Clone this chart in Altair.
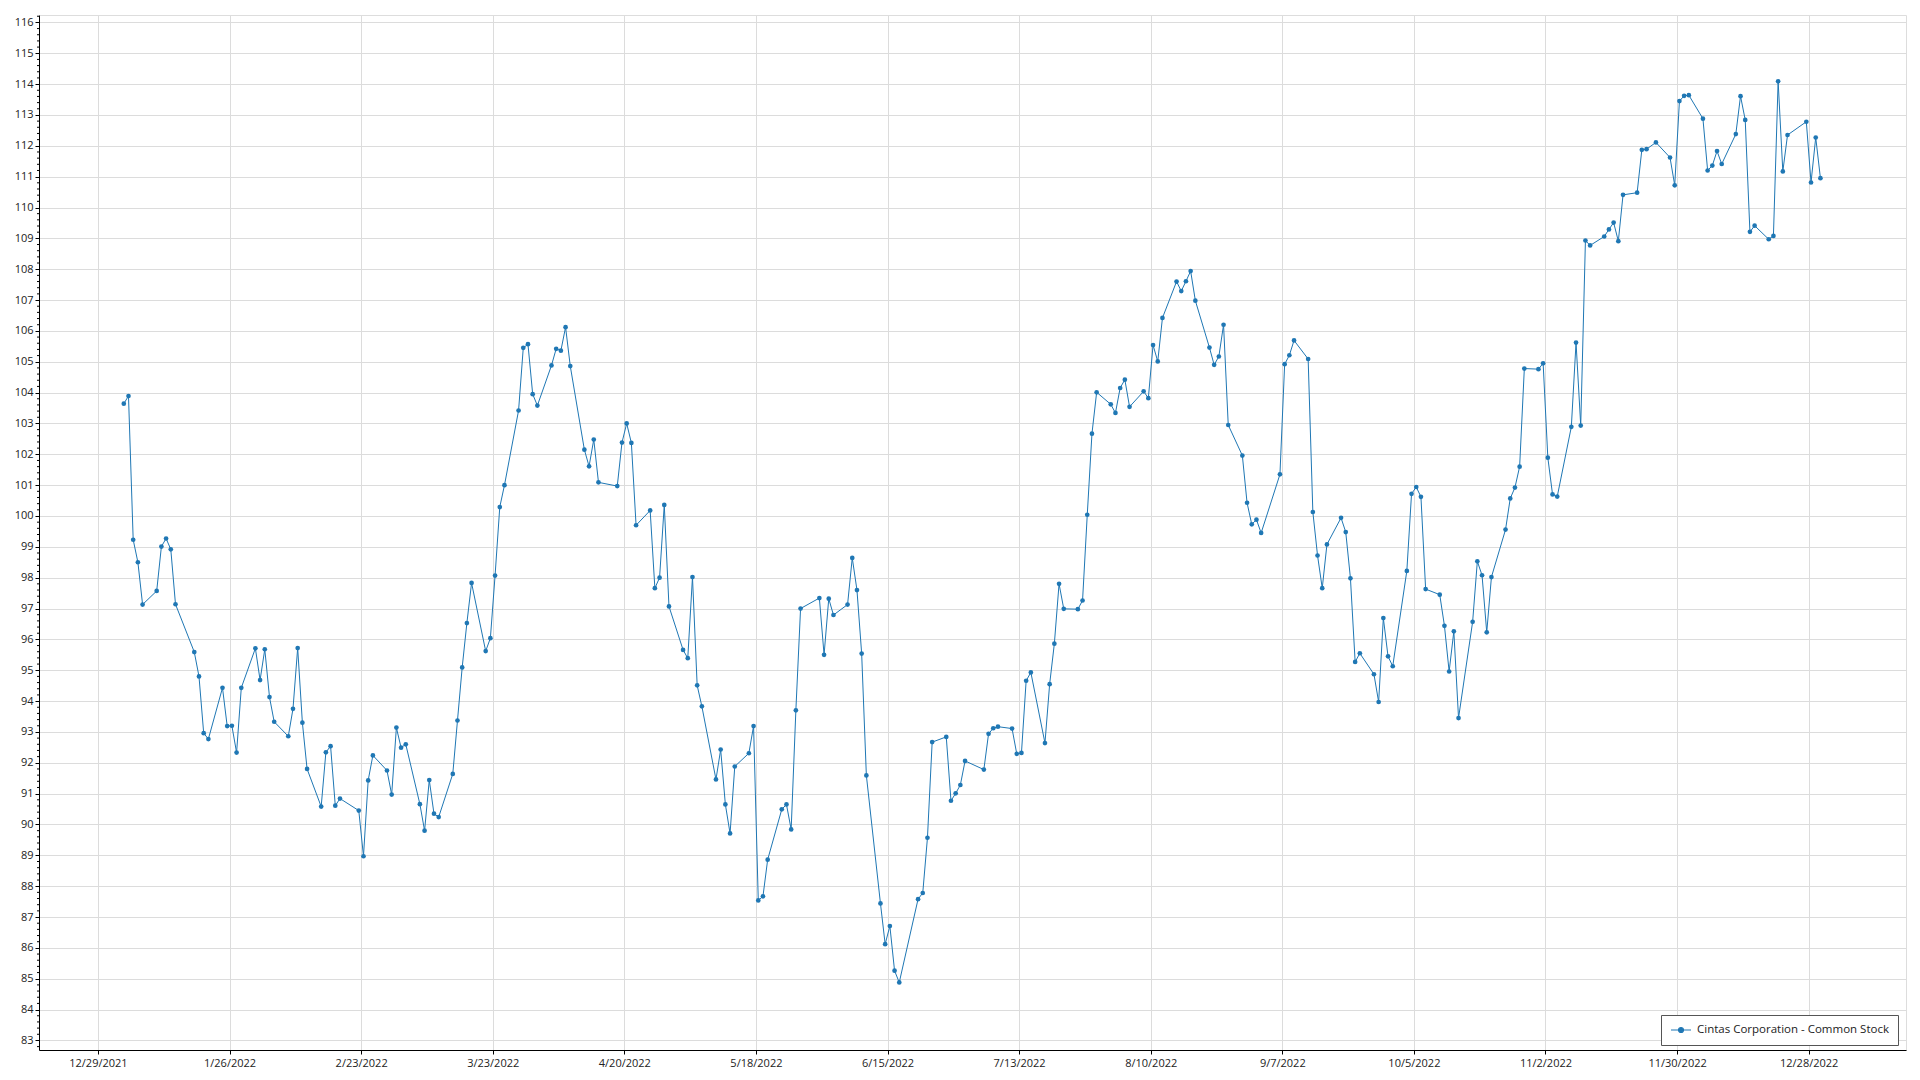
import altair as alt
import pandas as pd

# Daily closing prices, 2022 (one value per trading day)
jan = [103.64, 103.89, 99.23, 98.50, 97.13, 97.57, 99.01, 99.27, 98.92, 97.14,
       95.59, 94.80, 92.96, 92.77, 94.43, 93.19, 93.20, 92.33, 94.43, 95.71]
feb = [94.68, 95.68, 94.13, 93.33, 92.86, 93.75, 95.72, 93.30, 91.80, 90.58,
       92.34, 92.54, 90.61, 90.84, 90.45, 88.97, 91.43, 92.24, 91.75]
mar = [90.97, 93.14, 92.49, 92.60, 90.66, 89.80, 91.44, 90.35, 90.24, 91.64,
       93.37, 95.09, 96.53, 97.83, 95.62, 96.04, 98.07, 100.29, 101.00, 103.42,
       105.45, 105.57, 103.95]
apr = [103.58, 104.88, 105.42, 105.36, 106.12, 104.86, 102.15, 101.61, 102.48, 101.09,
       100.97, 102.38, 103.00, 102.37, 99.70, 100.18, 97.66, 98.00, 100.36, 97.07]
may = [95.66, 95.39, 98.02, 94.51, 93.83, 91.46, 92.43, 90.65, 89.71, 91.88,
       92.31, 93.19, 87.54, 87.67, 88.86, 90.49, 90.65, 89.84, 93.70, 97.00, 97.34]
jun = [95.50, 97.32, 96.79, 97.13, 98.64, 97.60, 95.54, 91.59, 87.44, 86.12,
       86.71, 85.26, 84.88, 87.58, 87.78, 89.57, 92.67, 92.84, 90.77, 91.01, 91.28]
jul = [92.06, 91.78, 92.94, 93.12, 93.17, 93.11, 92.29, 92.32, 94.66, 94.93,
       92.64, 94.55, 95.86, 97.80, 96.99, 96.98, 97.26, 100.04, 102.67, 104.01]
aug = [103.62, 103.34, 104.15, 104.42, 103.54, 104.04, 103.82, 105.54, 105.01, 106.42,
       107.60, 107.29, 107.61, 107.94, 106.98, 105.46, 104.90, 105.17, 106.20, 102.95,
       101.96, 100.43, 99.73]
sep = [99.88, 99.45, 101.35, 104.92, 105.21, 105.69, 105.09, 100.13, 98.72, 97.66,
       99.08, 99.94, 99.48, 97.98, 95.27, 95.55, 94.87, 93.97, 96.69, 95.45, 95.13]
oct_ = [98.22, 100.72, 100.94, 100.62, 97.63, 97.45, 96.44, 94.96, 96.26, 93.45,
        96.57, 98.53, 98.08, 96.23, 98.02, 99.56, 100.57, 100.92, 101.60, 104.78, 104.76]
nov = [104.95, 101.89, 100.70, 100.63, 102.89, 105.62, 102.93, 108.93, 108.77, 109.06,
       109.29, 109.51, 108.91, 110.41, 110.48, 111.87, 111.89, 112.11, 111.62, 110.72, 113.45]
dec = [113.62, 113.64, 112.88, 111.20, 111.36, 111.83, 111.41, 112.38, 113.61, 112.84,
       109.21, 109.41, 108.97, 109.08, 114.09, 111.17, 112.35, 112.78, 110.81, 112.27, 110.95]

market_holidays = ["2022-01-17", "2022-02-21", "2022-04-15", "2022-05-30", "2022-06-20",
                   "2022-07-04", "2022-09-05", "2022-11-24", "2022-12-26"]

series_name = "Cintas Corporation - Common Stock"

x_tick_dates = [(2021, 12, 29), (2022, 1, 26), (2022, 2, 23), (2022, 3, 23), (2022, 4, 20),
                (2022, 5, 18), (2022, 6, 15), (2022, 7, 13), (2022, 8, 10), (2022, 9, 7),
                (2022, 10, 5), (2022, 11, 2), (2022, 11, 30), (2022, 12, 28)]
y_ticks = list(range(83, 117))
y_minor = [round(v + k * 0.2, 1) for v in range(82, 117) for k in range(1, 5)]
y_minor = [v for v in y_minor if 82.69 <= v <= 116.24]

values = jan + feb + mar + apr + may + jun + jul + aug + sep + oct_ + nov + dec
days = [d for d in pd.bdate_range("2022-01-03", "2022-12-30")
        if d.strftime("%Y-%m-%d") not in market_holidays]
assert len(days) == len(values), (len(days), len(values))

df = pd.DataFrame({
    "date": [d.strftime("%Y-%m-%dT12:00:00") for d in days],
    "price": values,
    "series": [series_name] * len(values),
})
minor_df = pd.DataFrame({"price": y_minor})

FONT = "Open Sans"
BLUE = "#1f77b4"

x_enc = alt.X(
    "date:T",
    scale=alt.Scale(domain=[alt.DateTime(year=2021, month=12, date=16, hours=11),
                            alt.DateTime(year=2023, month=1, date=17, hours=17)]),
    axis=alt.Axis(
        values=[alt.DateTime(year=y, month=m, date=d) for (y, m, d) in x_tick_dates],
        format="%-m/%-d/%Y", title=None, grid=True, gridColor="#dcdcdc",
        tickSize=4, tickColor="#000", domainColor="#000", labelPadding=3,
        labelFont=FONT, labelFontSize=11, labelColor="#222",
    ),
)
y_scale = alt.Scale(domain=[82.69, 116.24], nice=False, zero=False)
y_axis = alt.Axis(
    values=y_ticks, title=None, grid=True, gridColor="#dcdcdc",
    tickSize=4, tickColor="#000", domainColor="#000", labelPadding=2,
    labelFont=FONT, labelFontSize=11, labelColor="#222",
)
y_enc = alt.Y("price:Q", scale=y_scale, axis=y_axis)
color_enc = alt.Color(
    "series:N",
    scale=alt.Scale(range=[BLUE]),
    legend=alt.Legend(
        title=None, orient="none", legendX=1622, legendY=1000,
        direction="vertical",
        symbolType="M-1,0H3M0.5,0A0.5,0.5 0 1,0 1.5,0A0.5,0.5 0 1,0 0.5,0Z",
        symbolSize=100, symbolStrokeWidth=1.2, symbolFillColor=BLUE,
        symbolStrokeColor=BLUE, labelOffset=15, labelLimit=0,
        labelFont=FONT, labelFontSize=11.5, labelColor="#222",
        padding=9, strokeColor="#555", fillColor="#ffffff", cornerRadius=0,
    ),
)

line = alt.Chart(df).mark_line(strokeWidth=1).encode(x=x_enc, y=y_enc, color=color_enc)
pts = alt.Chart(df).mark_circle(size=22, opacity=1).encode(x=x_enc, y=y_enc, color=color_enc)
minor = alt.Chart(minor_df).mark_rule(color="#000", strokeWidth=1).encode(
    y=y_enc,
    x=alt.value(-2), x2=alt.value(0),
)

chart = alt.layer(minor, line, pts).properties(
    width=1867, height=1035,
    autosize=alt.AutoSizeParams(type="none"),
    padding={"left": 31, "top": 7, "right": 6, "bottom": 20},
).configure_view(
    stroke="#000", strokeWidth=1,
).configure(background="#ffffff")

chart.save("out.html", embed_options={"renderer": "svg", "actions": False})
